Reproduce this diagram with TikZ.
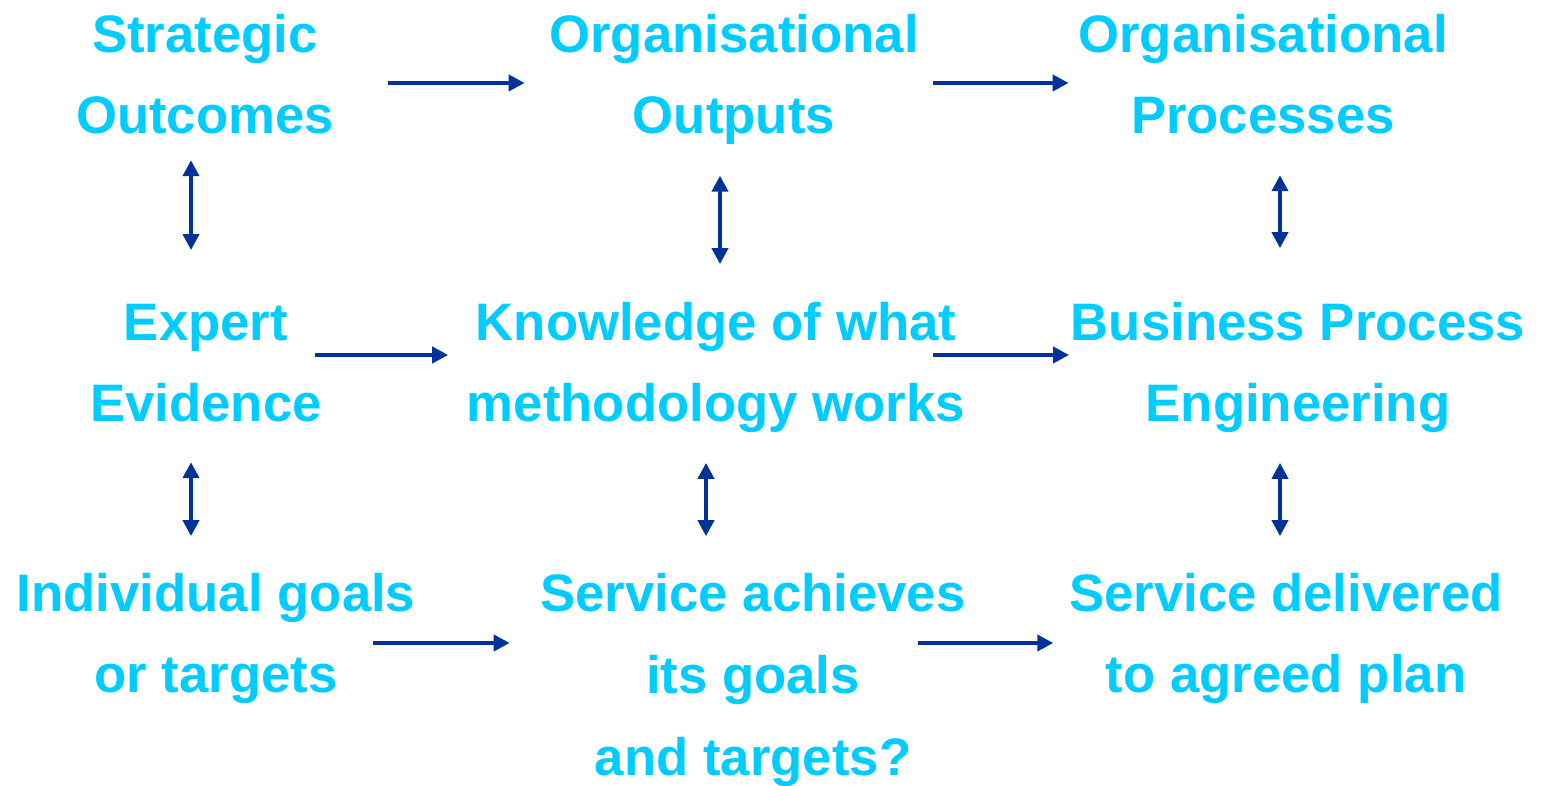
\documentclass[tikz,border=0pt]{standalone}
\usepackage{fontspec}
\setmainfont{Liberation Sans}
\usetikzlibrary{arrows.meta}
\definecolor{textcyan}{HTML}{00CCFF}
\definecolor{linkblue}{HTML}{003399}
\begin{document}
\begin{tikzpicture}[
  x=0.01cm, y=-0.01cm,
  every node/.style={font=\fontsize{15}{23.3}\selectfont\bfseries, text=textcyan,
    align=center, inner sep=0pt, anchor=base},
  link/.style={draw=linkblue, line width=1.1pt, -{Triangle[length=1.6mm,width=1.6mm]}},
  both/.style={link, {Triangle[length=1.6mm,width=1.6mm]}-{Triangle[length=1.6mm,width=1.6mm]}}
]
\useasboundingbox (0,0) rectangle (1543,786);
% top row
\node (so) at (205,134) {Strategic\\Outcomes};
\node (oo) at (734,134) {Organisational\\Outputs};
\node (op) at (1263,134) {Organisational\\Processes};
% middle row
\node (ee) at (206,422) {Expert\\Evidence};
\node (km) at (716,422) {Knowledge of what\\methodology works};
\node (bp) at (1298,422) {Business Process\\Engineering};
% bottom row
\node (ig) at (216,693) {Individual goals\\or targets};
\node (sa) at (753,775) {Service achieves\\its goals\\and targets?};
\node (sd) at (1286,693) {Service delivered\\to agreed plan};
% left to right
\draw[link] ([shift={(53,-51)}]so.base east) -- ([shift={(-24,-51)}]oo.base west);
\draw[link] ([shift={(14,-51)}]oo.base east) -- ([shift={(-9,-51)}]op.base west);
\draw[link] ([shift={(-8,-67)}]ee.base east) -- ([shift={(-18,-67)}]km.base west);
\draw[link] ([shift={(-33,-67)}]km.base east) -- ([shift={(-1,-67)}]bp.base west);
\draw[link] ([shift={(-43,-50)}]ig.base east) -- ([shift={(-30,-132)}]sa.base west);
\draw[link] ([shift={(-48,-132)}]sa.base east) -- ([shift={(-15,-50)}]sd.base west);
% up and down
\draw[both] ([shift={(-14,25)}]so.south) -- ([shift={(-15,-53)}]ee.north);
\draw[both] ([shift={(-14,30)}]oo.south) -- ([shift={(4,-37)}]km.north);
\draw[both] ([shift={(17,40)}]op.south) -- ([shift={(-18,-53)}]bp.north);
\draw[both] ([shift={(-15,39)}]ee.south) -- ([shift={(-25,-36)}]ig.north);
\draw[both] ([shift={(-10,29)}]km.south) -- ([shift={(-47,-36)}]sa.north);
\draw[both] ([shift={(-18,29)}]bp.south) -- ([shift={(-6,-36)}]sd.north);
\end{tikzpicture}
\end{document}
